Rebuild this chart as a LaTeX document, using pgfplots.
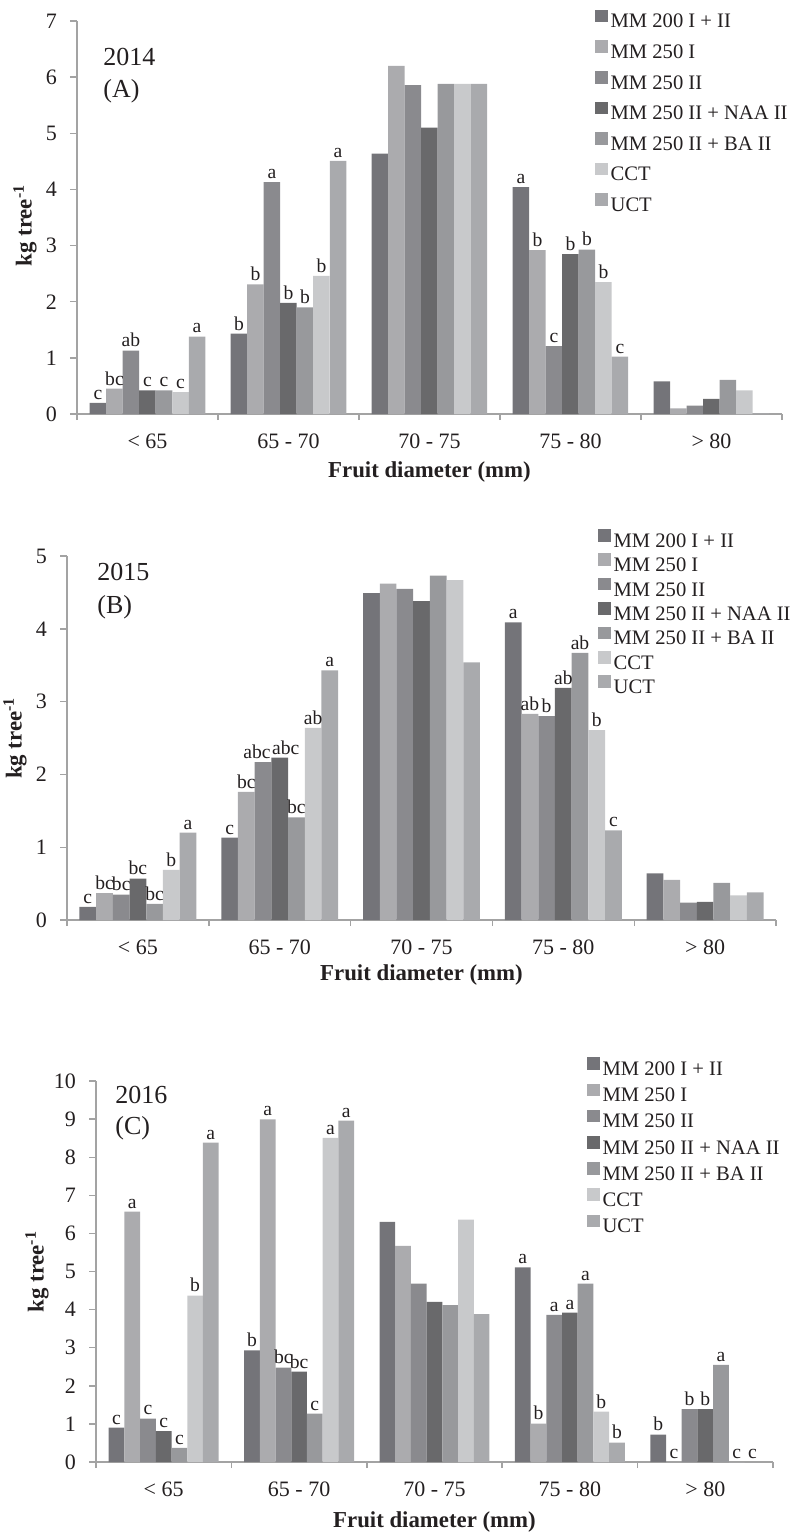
\documentclass[border=0pt]{standalone}
\usepackage{fontspec}
\setmainfont{Liberation Serif}
\usepackage{pgfplots}
\pgfplotsset{compat=1.18}
\definecolor{c1}{HTML}{747479}
\definecolor{c2}{HTML}{ABABAE}
\definecolor{c3}{HTML}{8A8A8E}
\definecolor{c4}{HTML}{69696B}
\definecolor{c5}{HTML}{98999C}
\definecolor{c6}{HTML}{C8C9CB}
\definecolor{c7}{HTML}{A9AAAD}
\definecolor{axgray}{HTML}{A3A3A3}
\definecolor{txt}{HTML}{231F20}
\newcommand{\labfont}{\fontsize{11.4}{13}\selectfont\bfseries}
\pgfplotsset{
  sq/.style={fill=#1, draw=none, legend image code/.code={\fill[#1] (0pt,0.3pt) rectangle (6.3pt,6.6pt);}},
  panel/.style={
    scale only axis, anchor=south west,
    xmin=-0.5, xmax=4.5, ymin=0,
    ybar=0pt,
    axis lines*=left, axis line style={draw=axgray, line width=0.7pt, -},
    tick align=outside, tick pos=left,
    xtick={0,1,2,3,4}, xticklabels={{< 65},{65 - 70},{70 - 75},{75 - 80},{> 80}},
    major x tick style={draw=none},
    minor xtick={-0.5,0.5,1.5,2.5,3.5,4.5},
    minor x tick style={draw=axgray, line width=0.7pt},
    minor tick length=3pt, major tick length=3.5pt,
    y tick style={draw=axgray, line width=0.7pt},
    ytick distance=1,
    /pgf/number format/assume math mode=true,
    tick label style={font=\fontsize{11}{13}\selectfont, text=txt},
    yticklabel style={xshift=-3pt},
    xticklabel style={yshift=-3pt},
    xlabel={\labfont Fruit diameter (mm)}, ylabel={\labfont kg tree\textsuperscript{-1}},
    nodes near coords, point meta=explicit symbolic,
    nodes near coords style={font=\fontsize{9.8}{12}\selectfont, text=txt, anchor=south, inner sep=1.5pt},
    legend cell align=left,
    legend style={draw=none, fill=none, inner sep=0pt, outer sep=0pt, anchor=north west,
      column sep=1.5pt, font=\fontsize{10.3}{12}\selectfont, text=txt,
      nodes={inner sep=0pt, text height=7pt, text depth=2pt}},
  },
}
\begin{document}
\begin{tikzpicture}
\path[use as bounding box] (0,0) rectangle (397pt,-767.5pt);
% ---------- Panel A ----------
\begin{axis}[panel, at={(38.5pt,-207pt)}, width=352.5pt, height=196.5pt, ymax=7,
  bar width=8.25pt,
  every axis x label/.style={at={(axis description cs:0.5,0)}, yshift=-29pt, anchor=center, text=txt},
  every axis y label/.style={at={(axis description cs:0,0.5)}, xshift=-26pt, yshift=-4pt, rotate=90, anchor=center, text=txt},
  legend style={at={(axis cs:3.174,7.2)}, row sep=4.2pt}]
\addplot[sq=c1] coordinates {(0,0.20)[c] (1,1.43)[b] (2,4.64)[\relax] (3,4.04)[a] (4,0.58)[\relax]};
\addplot[sq=c2] coordinates {(0,0.45)[bc] (1,2.31)[b] (2,6.20)[\relax] (3,2.92)[b] (4,0.10)[\relax]};
\addplot[sq=c3] coordinates {(0,1.13)[ab] (1,4.13)[a] (2,5.86)[\relax] (3,1.21)[c] (4,0.15)[\relax]};
\addplot[sq=c4] coordinates {(0,0.42)[c] (1,1.98)[b] (2,5.10)[\relax] (3,2.85)[b] (4,0.27)[\relax]};
\addplot[sq=c5] coordinates {(0,0.42)[c] (1,1.90)[b] (2,5.88)[\relax] (3,2.93)[b] (4,0.61)[\relax]};
\addplot[sq=c6] coordinates {(0,0.39)[c] (1,2.46)[b] (2,5.88)[\relax] (3,2.35)[b] (4,0.42)[\relax]};
\addplot[sq=c7] coordinates {(0,1.38)[a] (1,4.51)[a] (2,5.88)[\relax] (3,1.02)[c] (4,0.01)[\relax]};
\legend{MM 200 I + II, MM 250 I, MM 250 II, MM 250 II + NAA II, MM 250 II + BA II, CCT, UCT}
\end{axis}
% ---------- Panel B ----------
\begin{axis}[panel, at={(33.5pt,-460pt)}, width=354.5pt, height=182pt, ymax=5,
  bar width=8.35pt,
  every axis x label/.style={at={(axis description cs:0.5,0)}, yshift=-27.5pt, anchor=center, text=txt},
  every axis y label/.style={at={(axis description cs:0,0.5)}, xshift=-26pt, rotate=90, anchor=center, text=txt},
  legend style={at={(axis cs:3.245,5.37)}, row sep=1.1pt}]
\addplot[sq=c1] coordinates {(0,0.18)[c] (1,1.13)[c] (2,4.49)[\relax] (3,4.09)[a] (4,0.64)[\relax]};
\addplot[sq=c2] coordinates {(0,0.37)[bc] (1,1.76)[bc] (2,4.62)[\relax] (3,2.83)[ab] (4,0.55)[\relax]};
\addplot[sq=c3] coordinates {(0,0.35)[bc] (1,2.17)[abc\kern6pt] (2,4.55)[\relax] (3,2.80)[b] (4,0.24)[\relax]};
\addplot[sq=c4] coordinates {(0,0.57)[bc] (1,2.23)[\kern6pt abc] (2,4.38)[\relax] (3,3.19)[ab] (4,0.25)[\relax]};
\addplot[sq=c5] coordinates {(0,0.22)[bc] (1,1.41)[bc] (2,4.73)[\relax] (3,3.67)[ab] (4,0.51)[\relax]};
\addplot[sq=c6] coordinates {(0,0.69)[b] (1,2.64)[ab] (2,4.67)[\relax] (3,2.61)[b] (4,0.34)[\relax]};
\addplot[sq=c7] coordinates {(0,1.20)[a] (1,3.43)[a] (2,3.54)[\relax] (3,1.23)[c] (4,0.38)[\relax]};
\legend{MM 200 I + II, MM 250 I, MM 250 II, MM 250 II + NAA II, MM 250 II + BA II, CCT, UCT}
\end{axis}
% ---------- Panel C ----------
\begin{axis}[panel, at={(48pt,-731pt)}, width=338.5pt, height=190.5pt, ymax=10,
  bar width=7.85pt,
  every axis x label/.style={at={(axis description cs:0.5,0)}, yshift=-30pt, anchor=center, text=txt},
  every axis y label/.style={at={(axis description cs:0,0.5)}, xshift=-29.5pt, rotate=90, anchor=center, text=txt},
  legend style={at={(axis cs:3.126,10.62)}, row sep=2pt}]
\addplot[sq=c1] coordinates {(0,0.90)[c] (1,2.93)[b] (2,6.30)[\relax] (3,5.11)[a] (4,0.72)[b]};
\addplot[sq=c2] coordinates {(0,6.57)[a] (1,8.99)[a] (2,5.67)[\relax] (3,1.01)[b] (4,0)[c]};
\addplot[sq=c3] coordinates {(0,1.14)[c] (1,2.48)[bc] (2,4.68)[\relax] (3,3.86)[a] (4,1.39)[b]};
\addplot[sq=c4] coordinates {(0,0.81)[c] (1,2.37)[bc] (2,4.20)[\relax] (3,3.92)[a] (4,1.39)[b]};
\addplot[sq=c5] coordinates {(0,0.37)[c] (1,1.27)[c] (2,4.12)[\relax] (3,4.68)[a] (4,2.55)[a]};
\addplot[sq=c6] coordinates {(0,4.37)[b] (1,8.51)[a] (2,6.36)[\relax] (3,1.32)[b] (4,0)[c]};
\addplot[sq=c7] coordinates {(0,8.38)[a] (1,8.96)[a] (2,3.88)[\relax] (3,0.51)[b] (4,0)[c]};
\legend{MM 200 I + II, MM 250 I, MM 250 II, MM 250 II + NAA II, MM 250 II + BA II, CCT, UCT}
\end{axis}
% panel labels
\node[anchor=north west, align=left, inner sep=0pt, text=txt, font=\fontsize{13}{16}\selectfont] at (51.5pt,-24pt) {2014\\(A)};
\node[anchor=north west, align=left, inner sep=0pt, text=txt, font=\fontsize{13}{16.5}\selectfont] at (48.5pt,-281.5pt) {2015\\(B)};
\node[anchor=north west, align=left, inner sep=0pt, text=txt, font=\fontsize{13}{15.5}\selectfont] at (57.5pt,-543pt) {2016\\(C)};
\end{tikzpicture}
\end{document}
